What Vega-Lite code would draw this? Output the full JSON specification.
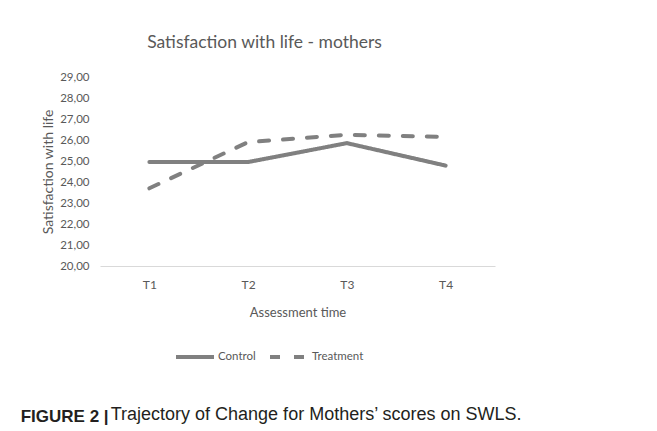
{
  "$schema": "https://vega.github.io/schema/vega-lite/v6.json",
  "background": "white",
  "autosize": {"type": "pad"},
  "padding": {"left": 20, "top": 33, "right": 5, "bottom": 5},
  "config": {"view": {"stroke": null}},
  "title": {
    "text": "Trajectory of Change for Mothers’ scores on SWLS.",
    "orient": "bottom",
    "anchor": "start",
    "frame": "bounds",
    "font": "Liberation Sans",
    "fontSize": 18,
    "fontWeight": "normal",
    "color": "#231f20",
    "dx": 90,
    "offset": -19
  },
  "vconcat": [
    {
      "title": {
        "text": "FIGURE 2 |",
        "orient": "bottom",
        "anchor": "start",
        "frame": "bounds",
        "font": "Liberation Sans",
        "fontSize": 17,
        "fontWeight": "bold",
        "color": "#231f20",
        "dx": -21,
        "offset": 90
      },
      "vconcat": [
        {
          "width": 395,
          "height": 189,
          "title": {
            "text": "Satisfaction with life - mothers",
            "font": "Lato",
            "fontSize": 17.5,
            "fontWeight": "normal",
            "color": "#595959",
            "anchor": "middle",
            "frame": "group",
            "dx": -33,
            "offset": 20
          },
          "data": {
            "values": [
              {"time": "T1", "group": "Control", "value": 24.95},
              {"time": "T2", "group": "Control", "value": 24.95},
              {"time": "T3", "group": "Control", "value": 25.85},
              {"time": "T4", "group": "Control", "value": 24.78},
              {"time": "T1", "group": "Treatment", "value": 23.7},
              {"time": "T2", "group": "Treatment", "value": 25.9},
              {"time": "T3", "group": "Treatment", "value": 26.25},
              {"time": "T4", "group": "Treatment", "value": 26.15}
            ]
          },
          "mark": {"type": "line", "strokeWidth": 4, "strokeCap": "round", "color": "#808080"},
          "encoding": {
            "x": {
              "field": "time",
              "type": "ordinal",
              "scale": {"type": "point", "padding": 0.5},
              "axis": {
                "title": "Assessment time",
                "labelAngle": 0,
                "ticks": false,
                "grid": false,
                "domainColor": "#d9d9d9",
                "domainWidth": 1,
                "labelPadding": 13,
                "titlePadding": 16,
                "labelFont": "Lato",
                "labelFontSize": 12,
                "labelColor": "#595959",
                "titleFont": "Lato",
                "titleFontSize": 13,
                "titleFontWeight": "normal",
                "titleColor": "#595959"
              }
            },
            "y": {
              "field": "value",
              "type": "quantitative",
              "scale": {"domain": [20, 29], "nice": false, "zero": false},
              "axis": {
                "title": "Satisfaction with life",
                "values": [20, 21, 22, 23, 24, 25, 26, 27, 28, 29],
                "labelExpr": "replace(format(datum.value, '.2f'), '.', ',')",
                "domain": false,
                "ticks": false,
                "grid": false,
                "labelPadding": 11,
                "titlePadding": 4,
                "labelFont": "Lato",
                "labelFontSize": 11.5,
                "labelColor": "#595959",
                "titleFont": "Lato",
                "titleFontSize": 14,
                "titleFontWeight": "normal",
                "titleColor": "#595959"
              }
            },
            "strokeDash": {
              "field": "group",
              "type": "nominal",
              "scale": {"domain": ["Control", "Treatment"], "range": [[1, 0], [10, 14]]},
              "legend": {
                "title": null,
                "orient": "none",
                "direction": "horizontal",
                "legendX": 74,
                "legendY": 259,
                "symbolType": "stroke",
                "symbolSize": 1444,
                "symbolStrokeWidth": 4,
                "symbolStrokeColor": "#808080",
                "labelFont": "Lato",
                "labelFontSize": 11.5,
                "labelColor": "#595959",
                "labelOffset": 2,
                "columnPadding": 6
              }
            }
          }
        }
      ]
    }
  ]
}
